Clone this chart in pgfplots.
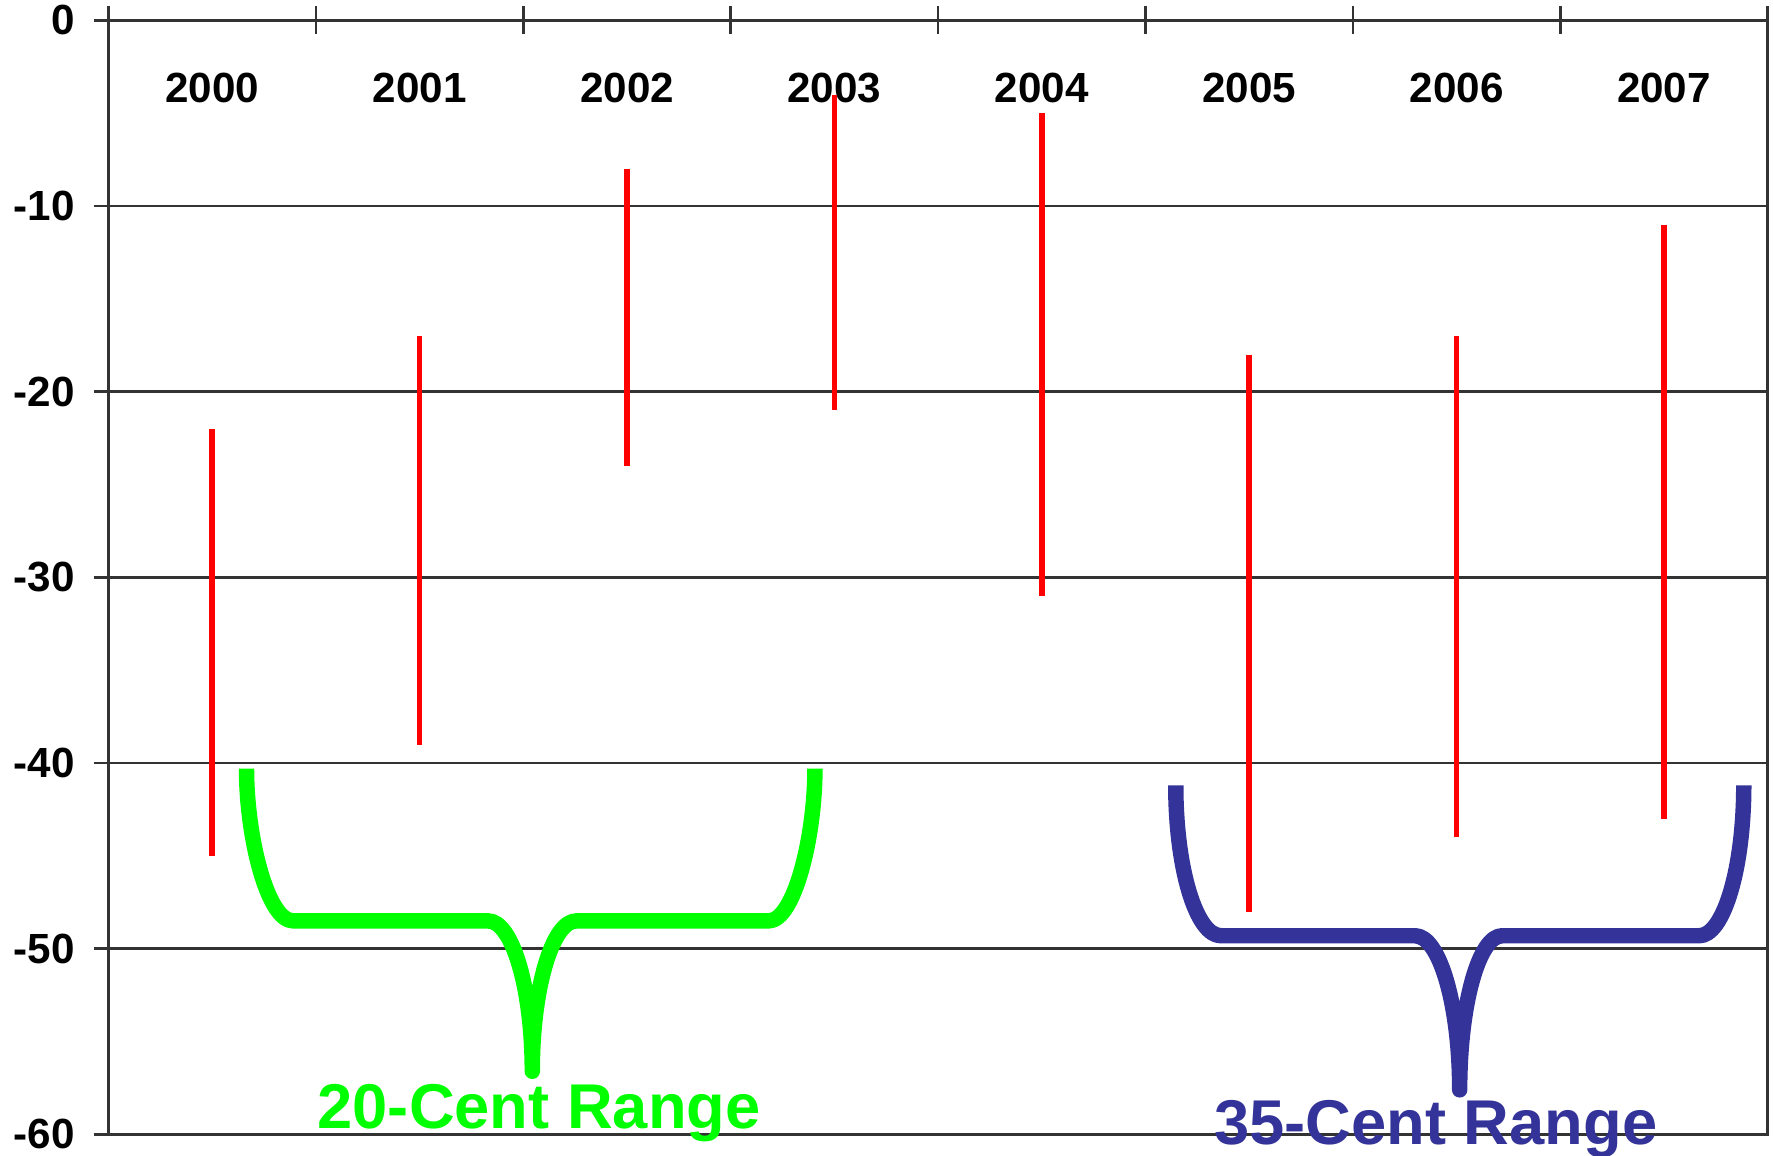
\documentclass[border=0pt]{standalone}
\usepackage{fontspec}
\setmainfont{Liberation Sans}
\usepackage{pgfplots}
\pgfplotsset{compat=1.18}
\usetikzlibrary{calc}

\definecolor{rangegreen}{RGB}{0,255,0}
\definecolor{rangeblue}{RGB}{51,51,153}
\definecolor{axisgray}{RGB}{51,51,51}

\newcommand{\lblfont}{\fontsize{12}{14}\bfseries\selectfont}
\newcommand{\bigfont}{\fontsize{18}{20}\bfseries\selectfont}

\begin{document}
\begin{tikzpicture}
\begin{axis}[
    scale only axis,
    width=16.59cm, height=11.14cm,
    xmin=-0.5, xmax=7.5,
    ymin=-60, ymax=0,
    clip=false,
    axis line style={axisgray, line width=0.75pt},
    xtick={0,...,7},
    xticklabels={2000,2001,2002,2003,2004,2005,2006,2007},
    xticklabel pos=upper,
    xtick pos=upper,
    major x tick style={draw=none},
    minor xtick={-0.5,0.5,...,7.5},
    minor x tick style={axisgray, line width=0.75pt},
    minor tick length=0.28cm,
    xticklabel style={font=\lblfont, anchor=center, yshift=-0.825cm},
    ytick={-60,-50,...,0},
    ytick pos=left,
    tick align=center,
    major tick length=0.3cm,
    major y tick style={axisgray, line width=0.75pt},
    yticklabel style={font=\lblfont, anchor=east, inner sep=0pt, xshift=-0.18cm},
    /pgf/number format/assume math mode=true,
    ymajorgrids,
    grid style={axisgray, line width=0.75pt},
]

% yearly high-low ranges
\addplot[red, line width=1.6pt, unbounded coords=jump] coordinates {
    (0,-22) (0,-45) (0,nan)
    (1,-17) (1,-39) (1,nan)
    (2,-8)  (2,-24) (2,nan)
    (3,-4)  (3,-21) (3,nan)
    (4,-5)  (4,-31) (4,nan)
    (5,-18) (5,-48) (5,nan)
    (6,-17) (6,-44) (6,nan)
    (7,-11) (7,-43)
};

% braces
\draw[rangegreen, line width=4.4pt, line join=round]
    (axis cs:0.165,-40.3) .. controls (axis cs:0.165,-43.99) and (axis cs:0.266,-48.5) ..
    (axis cs:0.39,-48.5) -- (axis cs:1.33,-48.5)
    .. controls (axis cs:1.447,-48.5) and (axis cs:1.543,-52.15) .. (axis cs:1.543,-56.6)
    .. controls (axis cs:1.543,-52.15) and (axis cs:1.639,-48.5) .. (axis cs:1.756,-48.5)
    -- (axis cs:2.683,-48.5)
    .. controls (axis cs:2.806,-48.5) and (axis cs:2.906,-43.99) .. (axis cs:2.906,-40.3);

\draw[rangeblue, line width=4.4pt, line join=round]
    (axis cs:4.646,-41.2) .. controls (axis cs:4.646,-45.66) and (axis cs:4.744,-49.3) ..
    (axis cs:4.864,-49.3) -- (axis cs:5.80,-49.3)
    .. controls (axis cs:5.918,-49.3) and (axis cs:6.015,-53.03) .. (axis cs:6.015,-57.6)
    .. controls (axis cs:6.015,-53.03) and (axis cs:6.107,-49.3) .. (axis cs:6.22,-49.3)
    -- (axis cs:7.17,-49.3)
    .. controls (axis cs:7.288,-49.3) and (axis cs:7.385,-45.66) .. (axis cs:7.385,-41.2);

\node[rangegreen, font=\bigfont, anchor=base] at (axis cs:1.576,-59.7) {20-Cent Range};
\node[rangeblue, font=\bigfont, anchor=base] at (axis cs:5.90,-60.57) {35-Cent Range};

\end{axis}
\pgfresetboundingbox
\path ($(current axis.south west)+(-1.086cm,-0.21cm)$) rectangle
      ($(current axis.north east)+(0.054cm,0.204cm)$);
\end{tikzpicture}
\end{document}
